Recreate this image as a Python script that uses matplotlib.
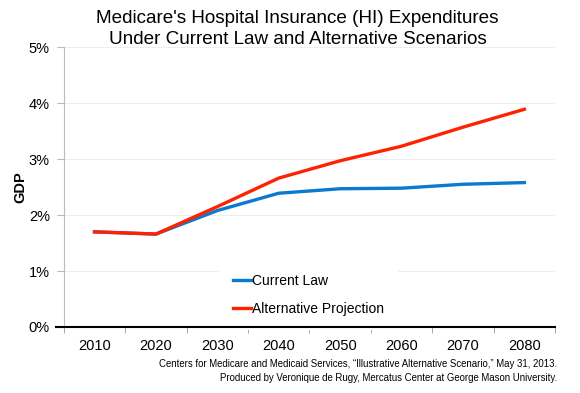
import matplotlib.pyplot as plt

plt.rcParams['font.family'] = ['Liberation Sans', 'DejaVu Sans']

years = ['2010', '2020', '2030', '2040', '2050', '2060', '2070', '2080']
current_law = [1.70, 1.66, 2.08, 2.39, 2.47, 2.48, 2.55, 2.58]
alternative = [1.70, 1.66, 2.15, 2.66, 2.97, 3.23, 3.57, 3.89]
y_ticks = [0, 1, 2, 3, 4, 5]

fig = plt.figure(figsize=(5.8, 3.93), dpi=100)
ax = fig.add_axes([0.110, 0.168, 0.847, 0.712])

x = list(range(len(years)))
ax.plot(x, current_law, color='#0a7ad0', lw=2.4, label='Current Law', zorder=3)
ax.plot(x, alternative, color='#ff2200', lw=2.4, label='Alternative Projection', zorder=4)

ax.set_xlim(-0.5, len(years) - 0.5)
ax.set_ylim(0, 5)
ax.set_yticks(y_ticks)
ax.set_yticklabels([f'{v}%' for v in y_ticks], fontsize=10.5)
ax.set_xticks(x)
ax.set_xticklabels(years, fontsize=10.5)
ax.tick_params(axis='x', length=0, pad=9)
ax.tick_params(axis='y', length=5, color='#bbbbbb', pad=5)
# category boundary ticks
ax.set_xticks([i - 0.5 for i in range(len(years) + 1)], minor=True)
ax.tick_params(axis='x', which='minor', length=4, color='#999999')

ax.grid(axis='y', color='#eeeeee', lw=0.8)
ax.set_axisbelow(True)
for s in ['top', 'right']:
    ax.spines[s].set_visible(False)
ax.spines['left'].set_color('#bbbbbb')
ax.spines['bottom'].set_color('black')
ax.spines['bottom'].set_linewidth(1.5)
ax.spines['bottom'].set_bounds(-0.62, len(years) - 0.5)

ax.set_ylabel('GDP', fontsize=10.5, fontweight='bold', labelpad=1)

leg = ax.legend(loc='lower left', bbox_to_anchor=(0.302, -0.034), fontsize=10,
                frameon=True, framealpha=1, edgecolor='none', fancybox=False,
                handlelength=1.3, handletextpad=0.1, labelspacing=1.0,
                borderpad=1.0)
leg.set_zorder(2.4)

fig.text(0.513, 0.975, "Medicare's Hospital Insurance (HI) Expenditures\n"
         "Under Current Law and Alternative Scenarios",
         ha='center', va='top', fontsize=13.6, linespacing=1.32)

fig.text(0.96, 0.087, "Centers for Medicare and Medicaid Services, \u201cIllustrative Alternative Scenario,\u201d May 31, 2013.\n"
         "Produced by Veronique de Rugy, Mercatus Center at George Mason University.",
         ha='right', va='top', fontsize=6.9, linespacing=1.5)

fig.savefig('out.png', dpi=100)
